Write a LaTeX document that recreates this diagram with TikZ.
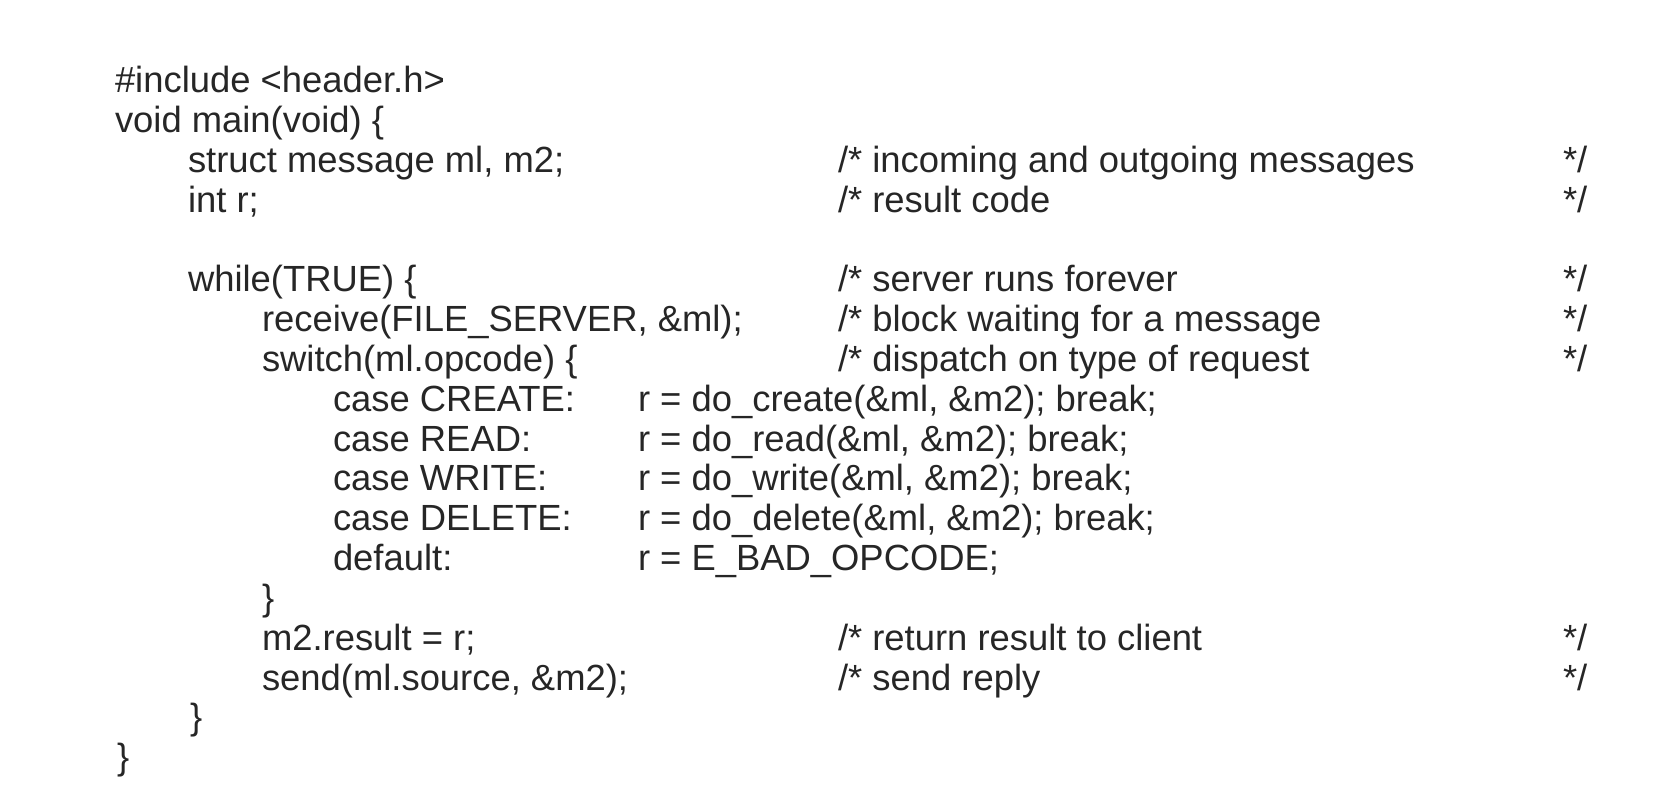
\documentclass[tikz,border=0pt]{standalone}
\usepackage{fontspec}
\setmainfont{Liberation Sans}
\usetikzlibrary{positioning}
\definecolor{ink}{gray}{0.15}
\tikzset{
	code/.style={anchor=base west, inner sep=0pt, outer sep=0pt, text=ink, font=\fontsize{18.2}{22}\selectfont},
	endmark/.style={code}
}
\begin{document}
\begin{tikzpicture}[x=0.5pt, y=-0.5pt]
		\useasboundingbox (0, 0) rectangle (1677, 807);
		\node[code] (inc) at (115, 93) {\#include <header.h>};
		\node[code] (mainhead) at (115, 132.8) {void main(void) \{};
		\node[code] (decl) at (188, 172.6) {struct message ml, m2;};
		\node[code] (decr) at (188, 212.4) {int r;};
		\node[code] (loop) at (188, 292) {while(TRUE) \{};
		\node[code] (recv) at (262, 331.8) {receive(FILE\_SERVER, \&ml);};
		\node[code] (sw) at (262, 371.6) {switch(ml.opcode) \{};
		\node[code] (crcase) at (333, 411.4) {case CREATE:};
		\node[code] (rdcase) at (333, 451.2) {case READ:};
		\node[code] (wrcase) at (333, 491) {case WRITE:};
		\node[code] (dlcase) at (333, 530.8) {case DELETE:};
		\node[code] (dfcase) at (333, 570.6) {default:};
		\node[code] (crdo) at (638, 411.4) {r = do\_create(\&ml, \&m2); break;};
		\node[code] (rddo) at (638, 451.2) {r = do\_read(\&ml, \&m2); break;};
		\node[code] (wrdo) at (638, 491) {r = do\_write(\&ml, \&m2); break;};
		\node[code] (dldo) at (638, 530.8) {r = do\_delete(\&ml, \&m2); break;};
		\node[code] (dfdo) at (638, 570.6) {r = E\_BAD\_OPCODE;};
		\node[code] (swend) at (262, 610.4) {\}};
		\node[code] (res) at (262, 650.2) {m2.result = r;};
		\node[code] (snd) at (262, 690) {send(ml.source, \&m2);};
		\node[code] (loopend) at (190, 729.8) {\}};
		\node[code] (mainend) at (117, 769.6) {\}};
		\node[code] (cdecl) at (838, 172.6) {/* incoming and outgoing messages};
		\node[code] (cdecr) at (838, 212.4) {/* result code};
		\node[code] (cloop) at (838, 292) {/* server runs forever};
		\node[code] (crecv) at (838, 331.8) {/* block waiting for a message};
		\node[code] (csw) at (838, 371.6) {/* dispatch on type of request};
		\node[code] (cres) at (838, 650.2) {/* return result to client};
		\node[code] (csnd) at (838, 690) {/* send reply};
		\node[endmark] (edecl) at (1563, 172.6) {*/};
		\node[endmark] (edecr) at (1563, 212.4) {*/};
		\node[endmark] (eloop) at (1563, 292) {*/};
		\node[endmark] (erecv) at (1563, 331.8) {*/};
		\node[endmark] (esw) at (1563, 371.6) {*/};
		\node[endmark] (eres) at (1563, 650.2) {*/};
		\node[endmark] (esnd) at (1563, 690) {*/};
	\end{tikzpicture}
\end{document}
